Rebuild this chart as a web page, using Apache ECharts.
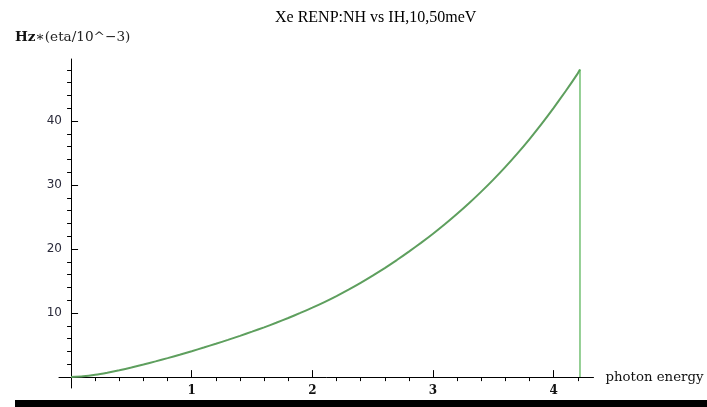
<!DOCTYPE html>
<html>
<head>
<meta charset="utf-8">
<script src="https://cdn.jsdelivr.net/npm/echarts@6/dist/echarts.min.js"></script>
<style>
  html, body { margin: 0; padding: 0; background: #fff; }
  #chart { width: 707px; height: 407px; }
</style>
</head>
<body>
<div id="chart"></div>
<script>
// ---- data ----
const titleText = 'Xe RENP:NH vs IH,10,50meV';
const yAxisTitleMain = 'Hz';
const yAxisTitleRest = '\u2217(eta/10^\u22123)';
const xAxisTitle = 'photon energy';

const photonEnergy = [0, 0.1, 0.2, 0.3, 0.4, 0.5, 0.6, 0.7, 0.8, 0.9,
  1.0, 1.1, 1.2, 1.3, 1.4, 1.5, 1.6, 1.7, 1.8, 1.9,
  2.0, 2.1, 2.2, 2.3, 2.4, 2.5, 2.6, 2.7, 2.8, 2.9,
  3.0, 3.1, 3.2, 3.3, 3.4, 3.5, 3.6, 3.7, 3.8, 3.9,
  4.0, 4.1, 4.2, 4.218];
const rate = [0, 0.12, 0.36, 0.69, 1.07, 1.50, 1.97, 2.46, 2.97, 3.50,
  4.05, 4.62, 5.21, 5.82, 6.45, 7.10, 7.78, 8.49, 9.24, 10.03,
  10.85, 11.72, 12.66, 13.66, 14.72, 15.85, 17.04, 18.29, 19.60, 20.97,
  22.40, 23.91, 25.51, 27.20, 28.98, 30.86, 32.85, 34.96, 37.20, 39.57,
  42.07, 44.70, 47.46, 48.05];
// vertical drop at the end point
const dropX = [4.218, 4.218];
const dropY = [48.05, 0];

const xMajorTicks = [1, 2, 3, 4];
const xMinorTicks = [0.2, 0.4, 0.6, 0.8, 1.2, 1.4, 1.6, 1.8, 2.2, 2.4, 2.6, 2.8,
  3.2, 3.4, 3.6, 3.8, 4.2];
const yMajorTicks = [10, 20, 30, 40];
const yMinorTicks = [2, 4, 6, 8, 12, 14, 16, 18, 22, 24, 26, 28, 32, 34, 36, 38,
  42, 44, 46, 48];

// ---- chart ----
const curveData = photonEnergy.map((x, i) => [x, rate[i]]);
const dropData = dropX.map((x, i) => [x, dropY[i]]);

const chart = echarts.init(document.getElementById('chart'), null, { renderer: 'canvas' });

const X_MIN = -0.1, X_MAX = 4.33, Y_MIN = -1.7, Y_MAX = 49.7;
const axisLineStyle = { color: '#000', width: 1 };

chart.setOption({
  animation: false,
  backgroundColor: '#fff',
  title: {
    text: titleText,
    left: 270,
    top: 5,
    textStyle: { fontFamily: 'Liberation Serif', fontSize: 16, fontWeight: 'normal', color: '#000' }
  },
  graphic: [
    {
      type: 'text',
      left: 15,
      top: 30,
      style: {
        text: '{a|' + yAxisTitleMain + '}{b|' + yAxisTitleRest + '}',
        rich: {
          a: { fontFamily: 'DejaVu Serif', fontSize: 13.6, fontWeight: 'bold', fill: '#111', color: '#111' },
          b: { fontFamily: 'DejaVu Serif', fontSize: 13.6, fill: '#222', color: '#222' }
        }
      }
    },
    {
      type: 'rect',
      shape: { x: 15, y: 400, width: 692, height: 7 },
      style: { fill: '#000' }
    }
  ],
  grid: { left: 59, right: 113.5, top: 59, bottom: 19, containLabel: false },
  xAxis: [
    {
      type: 'value', min: X_MIN, max: X_MAX,
      name: xAxisTitle, nameLocation: 'end', nameGap: 12,
      nameTextStyle: { fontFamily: 'DejaVu Serif', fontSize: 13.3, color: '#111', verticalAlign: 'middle' },
      axisLine: { show: true, onZero: true, lineStyle: axisLineStyle },
      axisTick: { show: true, inside: true, length: 7, customValues: xMajorTicks, lineStyle: axisLineStyle },
      axisLabel: { show: true, customValues: xMajorTicks, margin: -3, fontFamily: 'DejaVu Serif', fontSize: 12, fontWeight: 'bold', color: '#111' },
      splitLine: { show: false }
    },
    {
      type: 'value', min: X_MIN, max: X_MAX,
      axisLine: { show: false, onZero: true, onZeroAxisIndex: 0 },
      axisTick: { show: true, inside: true, length: 4, customValues: xMinorTicks, lineStyle: axisLineStyle },
      axisLabel: { show: false },
      splitLine: { show: false }
    }
  ],
  yAxis: [
    {
      type: 'value', min: Y_MIN, max: Y_MAX,
      axisLine: { show: true, onZero: true, lineStyle: axisLineStyle },
      axisTick: { show: true, inside: true, length: 7, customValues: yMajorTicks, lineStyle: axisLineStyle },
      axisLabel: { show: true, customValues: yMajorTicks, margin: -3, fontFamily: 'DejaVu Sans', fontSize: 12, color: '#2a2a3a' },
      splitLine: { show: false }
    },
    {
      type: 'value', min: Y_MIN, max: Y_MAX,
      axisLine: { show: false, onZero: true, onZeroAxisIndex: 0 },
      axisTick: { show: true, inside: true, length: 4, customValues: yMinorTicks, lineStyle: axisLineStyle },
      axisLabel: { show: false },
      splitLine: { show: false }
    }
  ],
  series: [
    {
      type: 'line', xAxisIndex: 0, yAxisIndex: 0,
      data: curveData, showSymbol: false, symbol: 'none', smooth: 0.2,
      lineStyle: { color: '#5e9f5e', width: 2 },
      z: 3
    },
    {
      type: 'line', xAxisIndex: 0, yAxisIndex: 0,
      data: dropData, showSymbol: false, symbol: 'none',
      lineStyle: { color: '#4fb04f', width: 1.2 },
      z: 3
    }
  ]
});
</script>
</body>
</html>
